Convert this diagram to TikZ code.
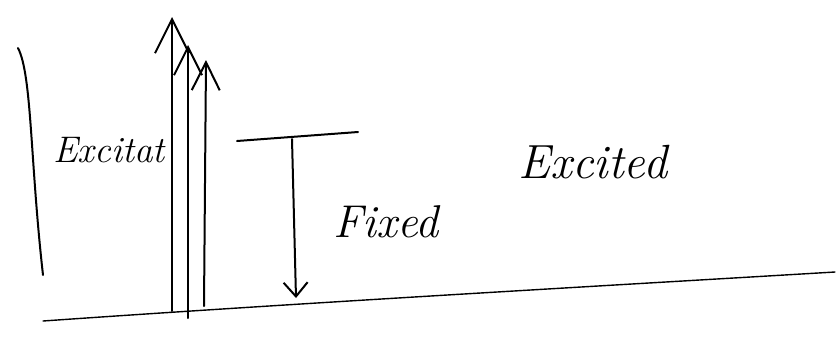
\documentclass[tikz,border=0pt]{standalone}
\usetikzlibrary{arrows.meta}
\tikzset{
  pen/.style={line width=2pt, line cap=round, line join=round, black},
  uparrow/.style={pen, -{Straight Barb[length=34pt, width=34pt, line width=2pt]}},
  smallup/.style={pen, -{Straight Barb[length=28pt, width=28pt, line width=2pt]}},
  downarrow/.style={pen, -{Straight Barb[length=14pt, width=24pt, line width=2pt]}},
  lbl/.style={inner sep=0pt, font=\itshape}
}
\begin{document}
\begin{tikzpicture}[x=1pt, y=-1pt]
\useasboundingbox (0,0) rectangle (840,338);
% named points
\coordinate (c1) at (18,48);
\coordinate (c2) at (43,275);
\coordinate (b1) at (43,321);
\coordinate (b2) at (835,272);
\coordinate (a1s) at (172,311);
\coordinate (a1e) at (172,17);
\coordinate (a2s) at (188,318);
\coordinate (a2e) at (188,45);
\coordinate (a3s) at (204,306);
\coordinate (a3e) at (206,60);
\coordinate (f1) at (237,141);
\coordinate (f2) at (358,132);
\coordinate (ds) at (292,139);
\coordinate (de) at (296,298);
% left bracket
\draw[pen] (c1) .. controls (32,75) and (30,160) .. (c2);
% ground line
\draw[pen, line width=1.4pt] (b1) .. controls (300,303) and (600,286) .. (b2);
% excitation arrows
\draw[uparrow] (a1s) -- (a1e);
\draw[smallup] (a2s) -- (a2e);
\draw[smallup] (a3s) -- (a3e);
% fixed level
\draw[pen] (f1) -- (f2);
\draw[downarrow] (ds) -- (de);
% labels
\node[lbl, font=\fontsize{37}{39}\selectfont\itshape] (t1) at (109,150) {Excitat};
\node[lbl, font=\fontsize{46}{48}\selectfont\itshape] (t2) at (386,222) {Fixed};
\node[lbl, font=\fontsize{48}{50}\selectfont\itshape] (t3) at (593,162) {Excited};
\end{tikzpicture}
\end{document}
